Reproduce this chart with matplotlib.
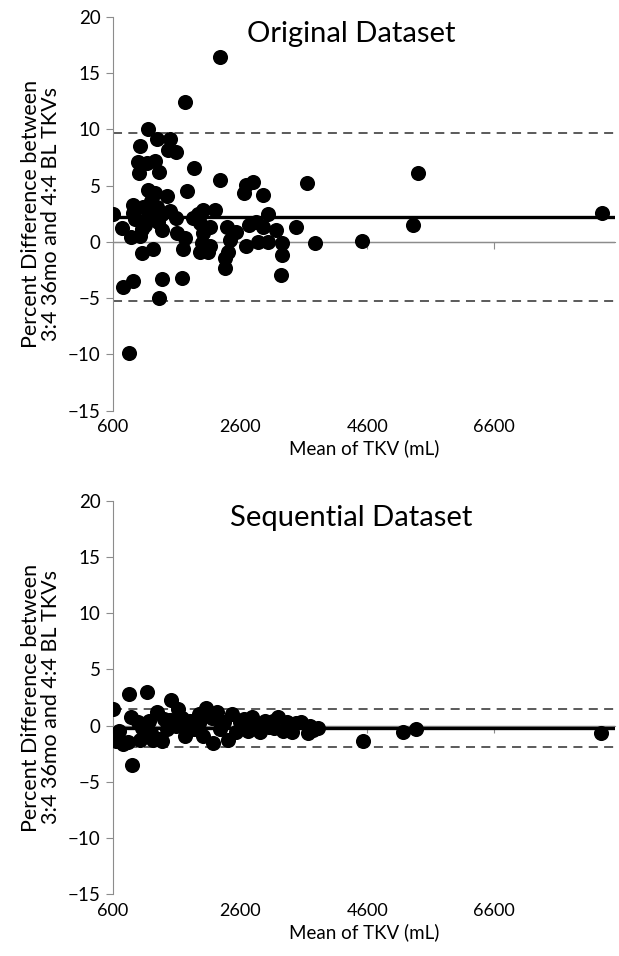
import numpy as np
import matplotlib.pyplot as plt

plt.rcParams['font.family'] = ['Lato', 'DejaVu Sans']

# Original dataset: mean TKV (mL) vs percent difference
orig_x = [600, 737, 752, 919, 919, 909, 878, 1024, 1050, 1024, 998, 1013, 1155, 1287,
          1261, 1329, 1128, 1155, 1261, 1444, 1075, 1170, 1287, 1155, 1312, 1365, 1233,
          1329, 1365, 1495, 1589, 1469, 1495, 1589, 1610, 1731, 1705, 1684, 1731, 1767,
          1877, 1862, 1940, 1967, 2019, 2019, 1994, 1967, 2098, 2124, 2203, 2124, 2281,
          2281, 2386, 2438, 2412, 2360, 2360, 2543, 2700, 2658, 2700, 2804, 2741, 2857,
          2883, 2961, 2961, 3040, 3040, 3170, 3264, 3264, 3249, 3485, 3652, 3773, 4522,
          5396, 5318, 8293, 856, 1050, 1195, 1365, 940, 1100]
orig_y = [2.5, 1.2, -4.0, -3.5, 3.3, 2.6, 0.4, 0.5, -1.0, 8.5, 7.1, 6.1, 10.0, 9.1,
          7.2, 6.2, 7.0, 4.6, 4.3, 4.1, 3.1, 3.0, 3.1, 2.3, 1.8, 1.05, -0.6,
          -5.0, -3.3, 9.1, 8.0, 8.2, 2.7, 2.1, 0.8, 0.3, -0.6, -3.2, 12.4, 4.5,
          6.6, 2.1, 2.5, 1.65, 2.8, 0.8, -0.1, -0.9, -0.9, 1.35, 2.8, -0.4, 16.45,
          5.5, 1.35, 0.2, -0.9, -1.45, -2.35, 0.9, -0.4, 4.3, 5.05, 5.35, 1.5, 1.8,
          0.0, 4.2, 1.35, 2.5, 0.0, 1.05, -0.1, -1.15, -2.95, 1.3, 5.2, -0.1, 0.1,
          6.15, 1.5, 2.6, -9.9, 1.1, 3.6, 2.5, 2.0, 1.5]
orig_mean, orig_upper, orig_lower = 2.2, 9.65, -5.25

# Sequential dataset
seq_x = [605, 650, 850, 880, 830, 893, 990, 1020, 1130, 1170, 1200, 1290, 1320, 1400,
         1450, 1520, 1620, 1590, 1680, 1730, 1810, 1880, 1960, 2010, 2070, 2150, 2230,
         2180, 2290, 2340, 2413, 2470, 2540, 2660, 2720, 2780, 2850, 2910, 2990, 3050,
         3120, 3200, 3275, 3330, 3420, 3485, 3560, 3670, 3700, 3830, 4533, 5160, 5370,
         8280, 700, 760, 1060, 1230, 1365, 1500, 1750, 1950, 2600, 3140, 3750]
seq_y = [1.45, -1.4, 2.8, 0.8, -1.5, -3.5, 0.3, -1.3, 3.0, 0.4, -0.7, 1.2, -1.2, 0.6,
         -0.3, 2.3, 1.5, 0.0, 0.7, -0.9, 0.4, -0.3, 1.0, -0.9, 1.55, 0.7, 1.25,
         -1.55, -0.3, 0.3, -1.25, 1.0, -0.6, 0.6, -0.5, 0.8, 0.0, -0.6, 0.4, -0.1,
         0.4, 0.8, -0.45, 0.3, -0.6, 0.25, 0.3, -0.7, 0.0, -0.25, -1.4, -0.55, -0.3,
         -0.7, -0.5, -1.6, -0.2, -1.3, -1.4, 0.5, -0.4, 0.2, 0.3, -0.2, -0.4]
seq_mean, seq_upper, seq_lower = -0.2, 1.5, -1.9

xticks = [600, 2600, 4600, 6600]
yticks = [-15, -10, -5, 0, 5, 10, 15, 20]
ylabel = "Percent Difference between\n3:4 36mo and 4:4 BL TKVs"

fig = plt.figure(figsize=(6.19, 9.56), dpi=100)
ax1 = fig.add_axes([0.1826, 0.5704, 0.811, 0.4121])
ax2 = fig.add_axes([0.1826, 0.0645, 0.811, 0.4118])

gray = '#8c8c8c'


def draw(ax, x, y, mean, upper, lower, title):
    ax.axhline(0, color=gray, lw=1.0, zorder=0)
    ax.axhline(upper, color='#4d4d4d', lw=1.3, ls=(0, (5, 3.5)), zorder=1)
    ax.axhline(lower, color='#4d4d4d', lw=1.3, ls=(0, (5, 3.5)), zorder=1)
    ax.axhline(mean, color='black', lw=2.4, zorder=2)
    ax.scatter(x, y, s=118, color='black', zorder=3, linewidths=0)
    ax.set_xlim(600, 8500)
    ax.set_ylim(-15, 20)
    ax.set_yticks(yticks)
    ax.set_xticks(xticks)
    for s in ['top', 'right', 'bottom']:
        ax.spines[s].set_visible(False)
    ax.spines['left'].set_color(gray)
    ax.tick_params(axis='y', direction='out', length=5, color=gray, labelsize=13.5, pad=4)
    ax.tick_params(axis='x', length=0, labelsize=13, pad=6)
    # zero line with tick marks, like the Excel category axis
    zx = ax.secondary_xaxis(0, transform=ax.transData)
    zx.set_xticks(xticks)
    zx.set_xticklabels([])
    zx.spines['bottom'].set_color(gray)
    zx.tick_params(axis='x', direction='out', length=5, color=gray)
    ax.set_xlabel("Mean of TKV (mL)", fontsize=13.5, labelpad=3)
    ax.set_ylabel(ylabel, fontsize=15.5, linespacing=1.0, labelpad=5)
    ax.text(0.475, 0.99, title, transform=ax.transAxes, ha='center', va='top', fontsize=21)


draw(ax1, orig_x, orig_y, orig_mean, orig_upper, orig_lower, "Original Dataset")
draw(ax2, seq_x, seq_y, seq_mean, seq_upper, seq_lower, "Sequential Dataset")

fig.savefig("out.png", dpi=100)
